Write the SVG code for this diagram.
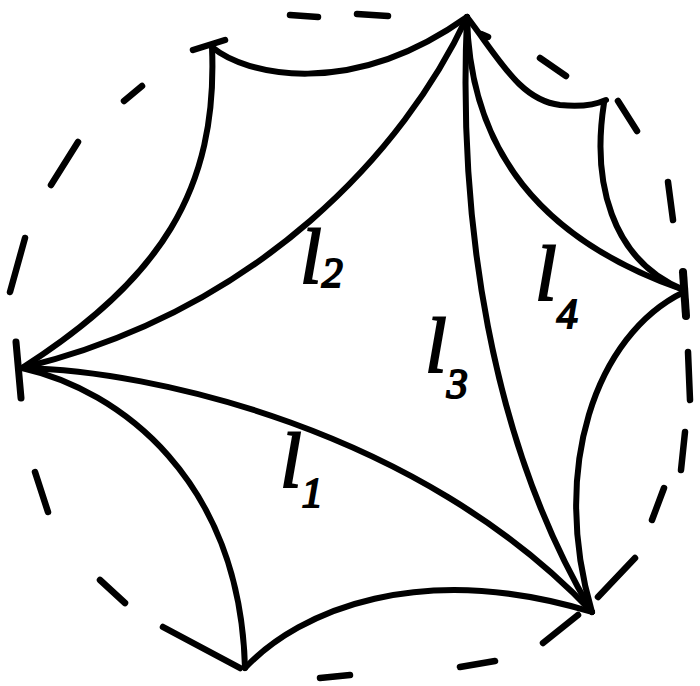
<svg xmlns="http://www.w3.org/2000/svg" width="700" height="686" viewBox="0 0 700 686">
<style>
.g{fill:none;stroke:#000;stroke-width:6;stroke-linecap:round;stroke-linejoin:round}
.d{fill:none;stroke:#000;stroke-width:6.5;stroke-linecap:round}
.t{font-family:"Liberation Serif",serif;font-style:italic;fill:#000;stroke:#000;stroke-width:2}
</style>
<rect width="700" height="686" fill="#fff"/>
<g id="boundary">
<path class="d" d="M290,15 L318,17"/>
<path class="d" d="M357,14 L388,16"/>
<path class="d" d="M540,58 L566,76"/>
<path class="d" d="M618,101 L637,131"/>
<path class="d" d="M668,182 L673,220"/>
<path class="d" d="M683,272 L686,316" style="stroke-width:8"/>
<path class="d" d="M688,352 L690,400"/>
<path class="d" d="M685,432 L681,470"/>
<path class="d" d="M664,488 L652,520"/>
<path class="d" d="M635,558 L598,597"/>
<path class="d" d="M578,615 L543,643"/>
<path class="d" d="M495,661 L460,667"/>
<path class="d" d="M350,675 L320,678"/>
<path class="d" d="M240,668 L163,627"/>
<path class="d" d="M125,603 L100,580"/>
<path class="d" d="M48,512 L35,472"/>
<path class="d" d="M16,342 L21,398" style="stroke-width:7"/>
<path class="d" d="M25,238 L10,292"/>
<path class="d" d="M78,142 L51,185"/>
<path class="d" d="M142,86 L124,101"/>
<path class="d" d="M193,50 L225,40"/>
<path class="d" d="M481,34 L488,37"/>
</g>
<g id="geodesics">
<path class="g" d="M212,47 C245,75 350,100 467,17"/>
<path class="g" d="M212,47 C218,190 160,280 22,368"/>
<path class="g" id="l2" d="M467,17 C405,150 260,310 22,368"/>
<path class="g" id="l1" d="M22,368 C150,370 420,430 592,612"/>
<path class="g" d="M22,368 C120,390 240,480 245,668"/>
<path class="g" d="M245,668 C300,610 420,560 592,612"/>
<path class="g" id="l3" d="M467,17 C458,220 490,440 592,612"/>
<path class="g" id="l4" d="M467,17 C470,150 540,240 684,290"/>
<path class="g" d="M467,17 C500,60 520,100 560,105 C580,107 595,105 606,100"/>
<path class="g" d="M604,103 C592,180 610,260 684,290"/>
<path class="g" d="M684,292 C595,335 550,470 592,612"/>
</g>
<g id="labels">
<text class="t" x="300" y="283" font-size="78">l<tspan font-size="42" dy="4">2</tspan></text>
<text class="t" x="425" y="372" font-size="78">l<tspan font-size="42" dy="26">3</tspan></text>
<text class="t" x="535" y="300" font-size="78">l<tspan font-size="42" dy="28">4</tspan></text>
<text class="t" x="280" y="487" font-size="78">l<tspan font-size="42" dy="20">1</tspan></text>
</g>
</svg>
